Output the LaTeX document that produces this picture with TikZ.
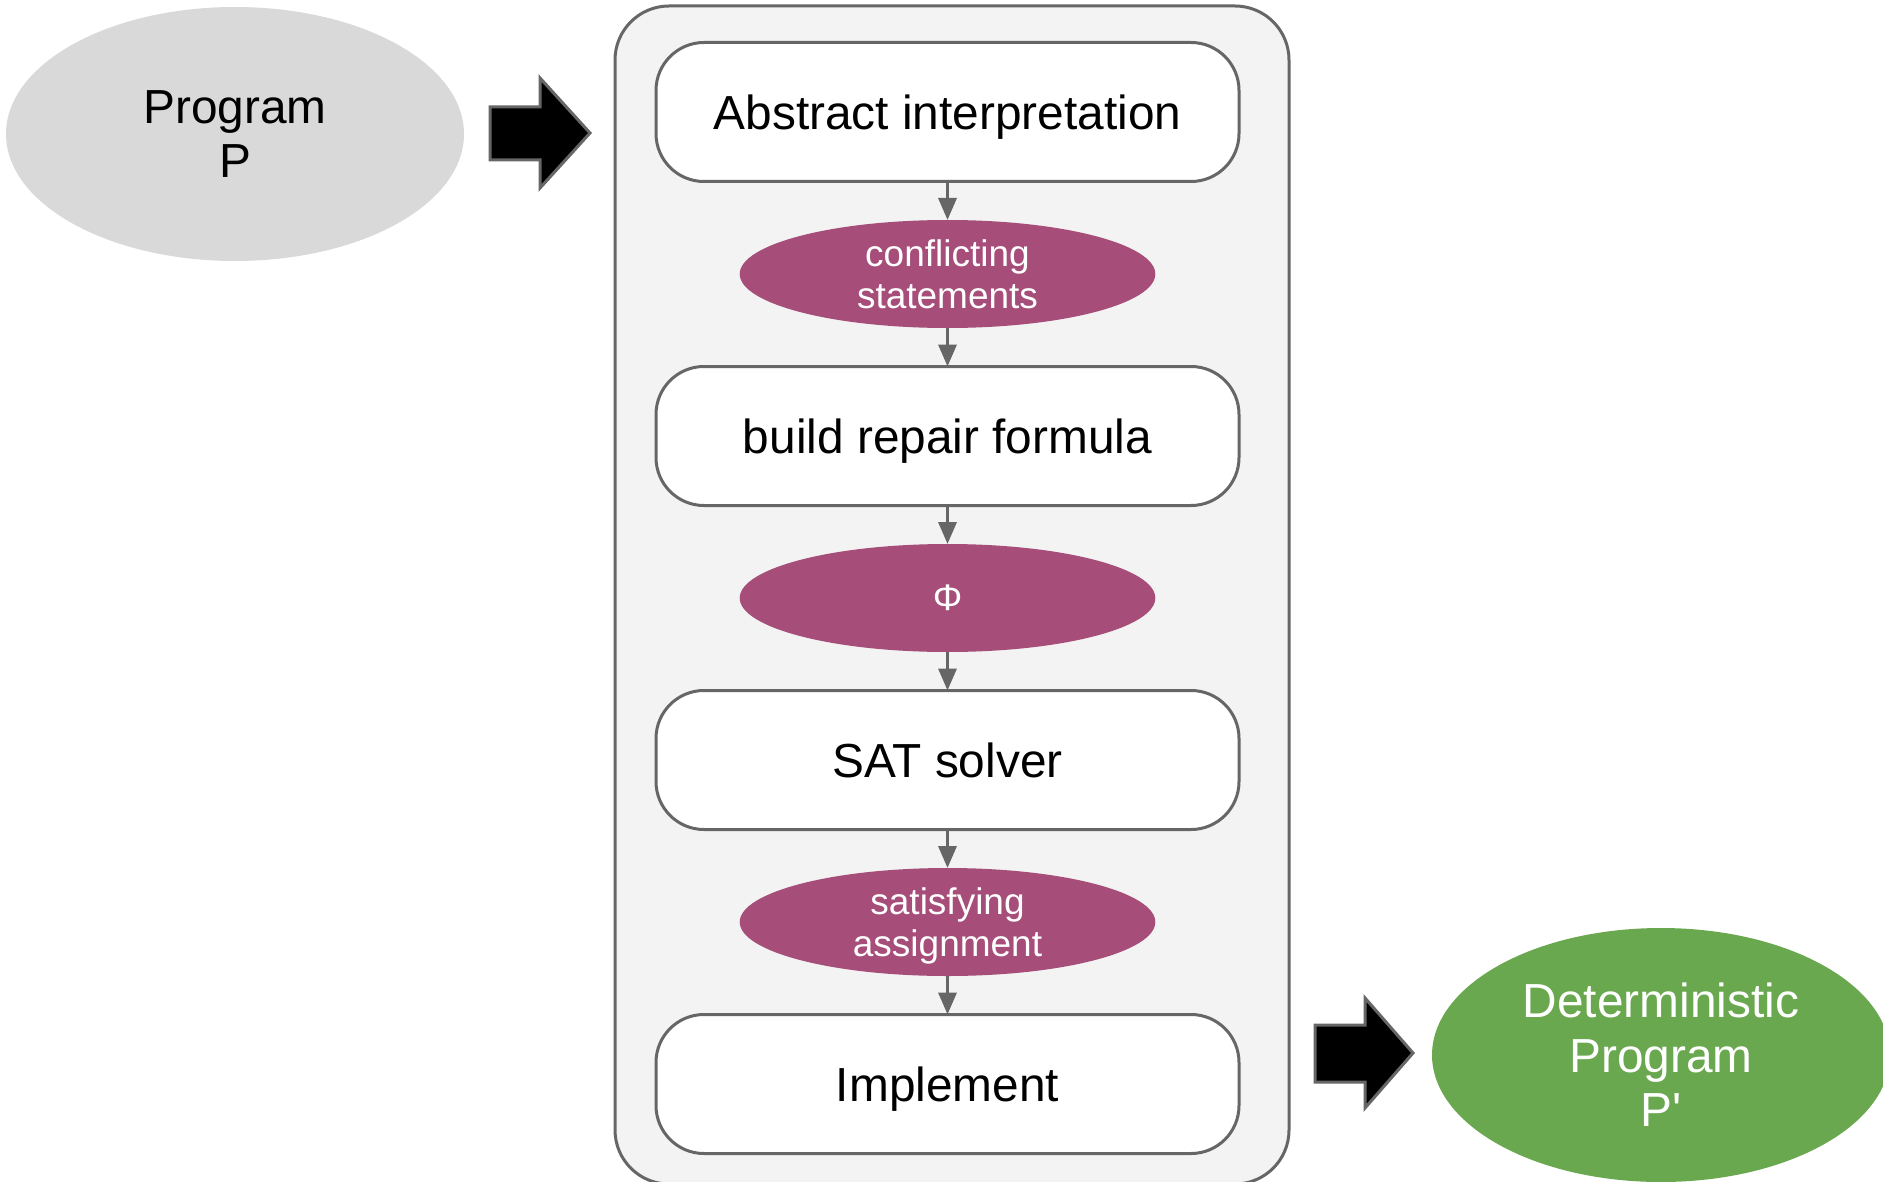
\documentclass[tikz,border=0pt]{standalone}
\usepackage{fontspec}
\setmainfont{Liberation Sans}
\usepackage{tikz}
\usetikzlibrary{shapes.geometric, arrows.meta, positioning}
\definecolor{linegray}{HTML}{666666}
\definecolor{panelgray}{HTML}{F3F3F3}
\definecolor{srcgray}{HTML}{D9D9D9}
\definecolor{datapurple}{HTML}{A64D79}
\definecolor{resgreen}{HTML}{6AA84F}

\begin{document}
\begin{tikzpicture}[x=0.5pt, y=-0.5pt,
  stage/.style={draw=linegray, line width=1.5pt, fill=white, rounded corners=24pt,
                minimum width=291.5pt, minimum height=69.5pt, inner sep=0pt,
                outer sep=0pt, text height=17.2pt, text depth=0pt,
                font=\fontsize{23.9}{27}\selectfont},
  datum/.style={ellipse, fill=datapurple, text=white, minimum width=207.8pt,
                minimum height=54pt, inner xsep=0pt, inner ysep=-2pt, outer sep=0pt,
                text depth=0pt, align=center, font=\fontsize{18.5}{21}\selectfont},
  prog/.style={ellipse, minimum width=229pt, minimum height=127pt, inner sep=0pt,
               align=center, font=\fontsize{23.9}{27.3}\selectfont},
  flow/.style={draw=linegray, line width=1.7pt, -{Triangle[length=11pt,width=9pt]}},
  bigarrow/.style={fill=black, draw=linegray, line width=1.5pt},
  node distance=19.25pt]
%
\useasboundingbox (0,0) rectangle (1883,1182);
\draw[draw=linegray, line width=1.5pt, fill=panelgray, rounded corners=27pt]
  (615,6) rectangle (1289,1184);
%
\node[prog, fill=srcgray] (src) at (235,134) {Program\\P};
\node[stage] (ai) at (947.5,112) {Abstract interpretation};
\node[datum, below=of ai] (cs) {conflicting\\statements};
\node[stage, below=of cs] (brf) {build repair formula};
\node[datum, below=of brf] (phi) {Φ};
\node[stage, below=of phi] (sat) {SAT solver};
\node[datum, below=of sat] (sa) {satisfying\\assignment};
\node[stage, below=of sa] (impl) {Implement};
\node[prog, fill=resgreen, text=white] (res) at (1661,1055)
  {Deterministic\\Program\\P\textquotesingle};
%
\foreach \a/\b in {ai/cs, cs/brf, brf/phi, phi/sat, sat/sa, sa/impl}
  \draw[flow] (\a) -- (\b);
%
\draw[bigarrow] (490,107) -- (540,107) -- (540,78) -- (590,133) -- (540,188)
  -- (540,160) -- (490,160) -- cycle;
\draw[bigarrow] (1315,1025) -- (1365,1025) -- (1365,998) -- (1413,1053)
  -- (1365,1108) -- (1365,1082) -- (1315,1082) -- cycle;
%
\end{tikzpicture}
\end{document}
